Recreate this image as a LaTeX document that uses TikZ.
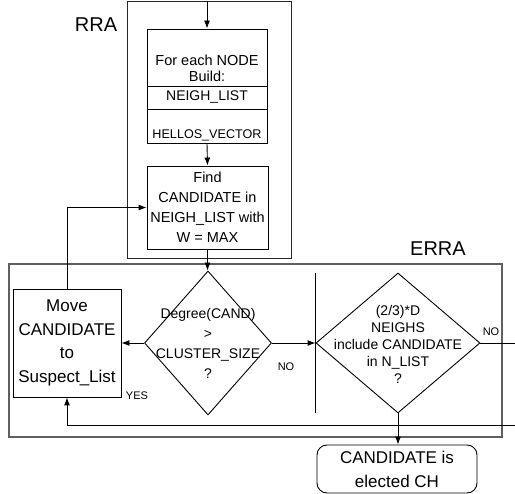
\documentclass[tikz,border=0pt]{standalone}
\usepackage{fontspec}
\setmainfont{Liberation Sans}
\usetikzlibrary{positioning, arrows, arrows.meta, shapes}
\definecolor{marco}{RGB}{95, 95, 95}
\tikzset{
    frame/.style={draw=marco, rectangle, line width=1.3pt, inner sep=0pt},
    frameIn/.style={draw=black!85, rectangle, line width=1pt, inner sep=0pt},
    block/.style={draw, rectangle, line width=0.9pt, inner sep=0pt, align=center},
    decide/.style={draw, diamond, line width=0.9pt, inner sep=0pt},
    term/.style={draw, rectangle, rounded corners=10pt, line width=0.9pt, inner sep=0pt, align=center},
    txt/.style={inner sep=0pt, align=center},
    head/.style={inner sep=0pt, font=\fontsize{20}{24}\selectfont},
    tag/.style={inner sep=0pt, font=\fontsize{11}{13}\selectfont},
    conn/.style={-{Latex[length=8pt, width=6pt]}, line width=0.9pt},
    plain/.style={-, line width=0.9pt},
}
\begin{document}
\begin{tikzpicture}[x=1pt, y=-1pt]
    \useasboundingbox (0,0) rectangle (515,494);

    % frames
    \node [frameIn, minimum width=164pt, minimum height=257pt] (rra) at (209,130.5) {};
    \node [frame, minimum width=493pt, minimum height=173pt] (erra) at (255.5,350.5) {};
    \node [head] (rraLbl) at (96,25) {RRA};
    \node [head] (erraLbl) at (438,249) {ERRA};

    % RRA part
    \node [block, minimum width=120pt, minimum height=57pt] (build) at (207,57.5) {};
    \node [txt, font=\fontsize{14.5}{16}\selectfont] (buildTxt) at (207,68.5) {For each NODE\\Build:};
    \node [block, minimum width=120pt, minimum height=23pt, font=\fontsize{14}{16}\selectfont] (neigh) at (207,97.5) {NEIGH\_LIST};
    \node [block, minimum width=120pt, minimum height=34pt] (hellos) at (207,126) {};
    \node [txt, font=\fontsize{12.6}{14}\selectfont] (hellosTxt) at (207,135.5) {HELLOS\_VECTOR};
    \node [block, minimum width=121pt, minimum height=83pt, font=\fontsize{14.5}{20}\selectfont] (find) at (207.5,207.5)
        {Find\\CANDIDATE in\\NEIGH\_LIST with\\W = MAX};

    % ERRA part
    \node [block, minimum width=108pt, minimum height=108pt, font=\fontsize{17}{23.7}\selectfont] (move) at (67,343)
        {Move\\CANDIDATE\\to\\Suspect\_List};
    \node [decide, minimum width=127pt, minimum height=144pt] (deg) at (208,343) {};
    \node [txt, font=\fontsize{14}{20}\selectfont] (degTxt) at (208,343)
        {Degree(CAND)\\>\\CLUSTER\_SIZE\\?};
    \node [decide, minimum width=164pt, minimum height=140pt] (incl) at (398,343) {};
    \node [txt, font=\fontsize{14}{17}\selectfont] (inclTxt) at (398,344)
        {(2/3)*D\\NEIGHS\\include CANDIDATE\\in N\_LIST\\?};
    \node [term, minimum width=160pt, minimum height=48pt, font=\fontsize{17}{24}\selectfont] (elect) at (397,469)
        {CANDIDATE is\\elected CH};

    \node [tag] (yes) at (137,396) {YES};
    \node [tag] (no1) at (286,367) {NO};
    \node [tag] (no2) at (491,332) {NO};

    \coordinate (loopR) at (530,343);
    \coordinate (loopB) at (530,425);

    % connectors
    \draw [conn] (rra.north -| build.north) -- (build.north);
    \draw [conn] (hellos.south) -- (find.north);
    \draw [conn] (find.south) -- (deg.north -| find.south);
    \draw [conn] (deg.west) -- (move.east);
    \draw [conn] (deg.east) -- (incl.west);
    \draw [plain] (incl.west |- incl.north) -- (incl.west |- incl.south);
    \draw [conn] (incl.south) -- (elect.north -| incl.south);
    \draw [plain] (incl.east) -- (loopR) -- (loopB);
    \draw [conn] (loopB) -| (move.south);
    \draw [conn] (move.north) |- (find.west);
\end{tikzpicture}
\end{document}
